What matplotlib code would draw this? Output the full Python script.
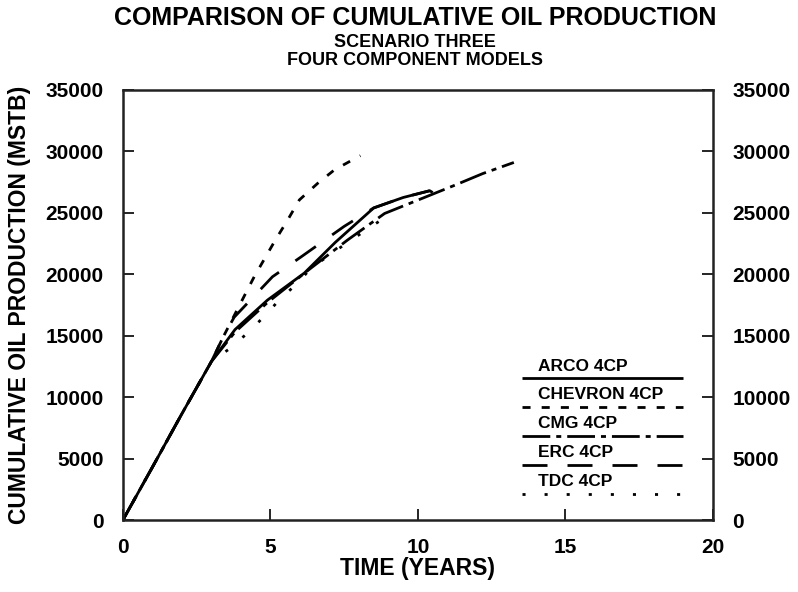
#Cumulative oil production, scenario three, four component models

import numpy as np
import matplotlib.pyplot as plt
from matplotlib.lines import Line2D

plt.rcParams["font.family"] = ["Liberation Sans", "DejaVu Sans"]
plt.rcParams["font.weight"] = "bold"
plt.rcParams["axes.labelweight"] = "bold"
plt.rcParams["lines.scale_dashes"] = False

#Simulator results (time in years, production in MSTB)
t_arco = [0, 1.0, 2.0, 3.0, 3.8, 4.9, 6.15, 7.2, 8.5, 9.5, 10.4, 10.5]
q_arco = [0, 4300, 8650, 12900, 15500, 17900, 20100, 22600, 25400, 26250, 26800, 26650]

t_chev = [0, 1.0, 2.0, 3.0, 3.4, 3.7, 4.45, 5.17, 5.58, 5.98, 6.6, 7.17, 7.85, 8.05]
q_chev = [0, 4300, 8650, 12900, 14900, 16300, 19800, 22800, 24400, 26050, 27400, 28500, 29400, 29650]

t_cmg = [0, 1.0, 2.0, 3.0, 3.8, 4.9, 6.37, 7.62, 8.87, 10.27, 11.25, 12.2, 13.25]
q_cmg = [0, 4300, 8650, 12900, 15300, 17700, 20500, 22800, 24950, 26300, 27250, 28200, 29100]

t_erc = [0, 1.0, 2.0, 3.0, 3.4, 3.77, 5.07, 6.03, 7.5, 8.5, 9.5, 10.4]
q_erc = [0, 4300, 8650, 12900, 14900, 16500, 19800, 21400, 23900, 25400, 26250, 26800]

t_tdc = [0, 1.0, 2.0, 3.0, 3.71, 4.27, 4.84, 5.35, 5.92, 6.37, 7.5, 8.8]
q_tdc = [0, 4300, 8650, 12900, 14100, 15330, 16690, 18050, 19270, 20500, 22400, 24500]

names = ['ARCO 4CP', 'CHEVRON 4CP', 'CMG 4CP', 'ERC 4CP', 'TDC 4CP']
styles = [(0, ()),
          (0, (5.8, 8.0)),
          (0, (20, 4.3, 3.6, 4.3)),
          (0, (18, 14.4)),
          (0, (2.2, 13.7))]
series = [(t_arco, q_arco), (t_chev, q_chev), (t_cmg, q_cmg), (t_erc, q_erc), (t_tdc, q_tdc)]

fig = plt.figure(figsize=(7.98, 5.92), dpi=100)
ax = fig.add_axes([0.154, 0.1216, 0.7395, 0.7264])

lw = 2.0
for (t, q), ls in zip(series, styles):
    ax.plot(t, q, color='black', lw=lw, linestyle=ls)

ax.set_xlim(0, 20)
ax.set_ylim(0, 35000)
ax.set_xticks(np.arange(0, 21, 5))
ax.set_yticks(np.arange(0, 35001, 5000))
ax.tick_params(direction='in', length=8, width=1.2, labelsize=15,
               right=True, labelright=True)
ax.tick_params(axis='x', pad=13)
ax.tick_params(axis='y', pad=14)
for s in ax.spines.values():
    s.set_linewidth(1.8)
    s.set_color('#222222')

ax.set_xlabel('TIME (YEARS)', fontsize=16.5, labelpad=0)
ax.set_ylabel('CUMULATIVE OIL PRODUCTION (MSTB)', fontsize=16.5, labelpad=10)

#hand-drawn key: name above a sample of the line
for i, (nm, ls) in enumerate(zip(names, styles)):
    ly = 0.330 - i * 0.0672
    ax.text(0.703, ly + 0.028, nm, transform=ax.transAxes, fontsize=12.5,
            ha='left', va='center')
    ax.add_line(Line2D([0.676, 0.949], [ly, ly], transform=ax.transAxes,
                       color='black', lw=lw, linestyle=ls))

fig.text(0.52, 0.969, 'COMPARISON OF CUMULATIVE OIL PRODUCTION', fontsize=18,
         ha='center', va='center')
narrow = ['Liberation Sans Narrow', 'Liberation Sans', 'DejaVu Sans']
fig.text(0.52, 0.928, 'SCENARIO THREE', fontsize=13, ha='center', va='center',
         family=narrow)
fig.text(0.52, 0.898, 'FOUR COMPONENT MODELS', fontsize=13, ha='center', va='center',
         family=narrow)

plt.savefig('out.png', dpi=100)
